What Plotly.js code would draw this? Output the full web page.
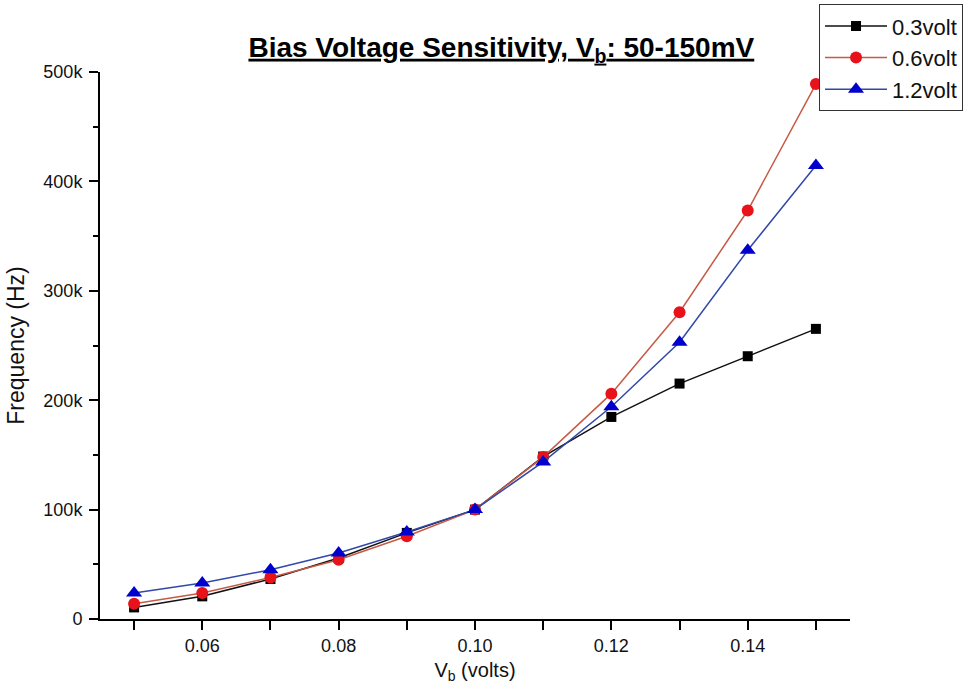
<!DOCTYPE html>
<html>
<head>
<meta charset="utf-8">
<script src="https://cdn.plot.ly/plotly-3.0.1.min.js"></script>
<style>html,body{margin:0;padding:0;background:#fff;}#chart{width:966px;height:690px;}</style>
</head>
<body>
<div id="chart"></div>
<script>
var vb = [0.05, 0.06, 0.07, 0.08, 0.09, 0.10, 0.11, 0.12, 0.13, 0.14, 0.15];
var freq03 = [10600, 20700, 36600, 55800, 78700, 100000, 148500, 184700, 215200, 240200, 265200];
var freq06 = [14000, 23800, 38000, 54200, 75600, 100000, 148000, 206000, 280400, 373400, 489000];
var freq12 = [23800, 33000, 45000, 60400, 79600, 100000, 143600, 194000, 253000, 337000, 414600];
var seriesNames = ['0.3volt', '0.6volt', '1.2volt'];
var xTickVals = [0.06, 0.08, 0.10, 0.12, 0.14];
var xTickText = ['0.06', '0.08', '0.10', '0.12', '0.14'];
var yTickVals = [0, 100000, 200000, 300000, 400000, 500000];
var yTickText = ['0', '100k', '200k', '300k', '400k', '500k'];

var FONT = "'Liberation Sans', Arial, Helvetica, sans-serif";

var traces = [
  {x: vb, y: freq03, name: seriesNames[0], type: 'scatter', mode: 'lines+markers',
   line: {color: '#111111', width: 1.5},
   marker: {symbol: 'square', size: 10, color: '#000000'}, cliponaxis: false},
  {x: vb, y: freq06, name: seriesNames[1], type: 'scatter', mode: 'lines+markers',
   line: {color: '#c65a45', width: 1.5},
   marker: {symbol: 'circle', size: 12, color: '#e8121a'}, cliponaxis: false},
  {x: vb, y: freq12, name: seriesNames[2], type: 'scatter', mode: 'lines+markers',
   line: {color: '#3148a8', width: 1.5},
   marker: {symbol: 'triangle-up', size: 14, color: '#0000cc'}, cliponaxis: false}
];

var layout = {
  width: 966, height: 690,
  paper_bgcolor: '#ffffff', plot_bgcolor: '#ffffff',
  margin: {l: 100, r: 116, t: 72, b: 71, autoexpand: false},
  font: {family: FONT, color: '#000000'},
  title: {
    text: '<b><u>Bias Voltage Sensitivity, V<sub>b</sub>: 50-150mV</u></b>',
    font: {family: FONT, size: 28, color: '#000000'},
    xref: 'container', x: 0.519, xanchor: 'center',
    yref: 'container', y: 0.932, yanchor: 'middle'
  },
  xaxis: {
    range: [0.045, 0.155],
    tickmode: 'array', tickvals: xTickVals, ticktext: xTickText,
    ticks: 'outside', ticklen: 9, tickwidth: 2, tickcolor: '#000',
    minor: {tickmode: 'linear', tick0: 0.05, dtick: 0.01, ticks: 'outside', ticklen: 9, tickwidth: 2, tickcolor: '#000'},
    showline: true, linecolor: '#000', linewidth: 2,
    showgrid: false, zeroline: false,
    tickfont: {family: FONT, size: 18, color: '#111'},
    title: {text: 'V<sub>b</sub> (volts)', font: {family: FONT, size: 20, color: '#111'}, standoff: 8}
  },
  yaxis: {
    range: [0, 500000],
    tickmode: 'array', tickvals: yTickVals, ticktext: yTickText,
    ticks: 'outside', ticklen: 9, tickwidth: 2, tickcolor: '#000',
    minor: {tickmode: 'linear', tick0: 0, dtick: 50000, ticks: 'outside', ticklen: 5, tickwidth: 2, tickcolor: '#000'},
    showline: true, linecolor: '#000', linewidth: 2,
    showgrid: false, zeroline: false,
    ticklabelstandoff: 3,
    tickfont: {family: FONT, size: 18, color: '#111'},
    title: {text: 'Frequency (Hz)', font: {family: FONT, size: 23, color: '#111'}, standoff: 12}
  },
  showlegend: true,
  legend: {
    xref: 'paper', yref: 'paper',
    x: 0.9587, y: 1.124, xanchor: 'left', yanchor: 'top',
    bgcolor: '#ffffff', bordercolor: '#333333', borderwidth: 1,
    font: {family: FONT, size: 22, color: '#111'},
    itemwidth: 62, tracegroupgap: 0
  }
};

Plotly.newPlot('chart', traces, layout, {displayModeBar: false, staticPlot: true});
</script>
</body>
</html>
